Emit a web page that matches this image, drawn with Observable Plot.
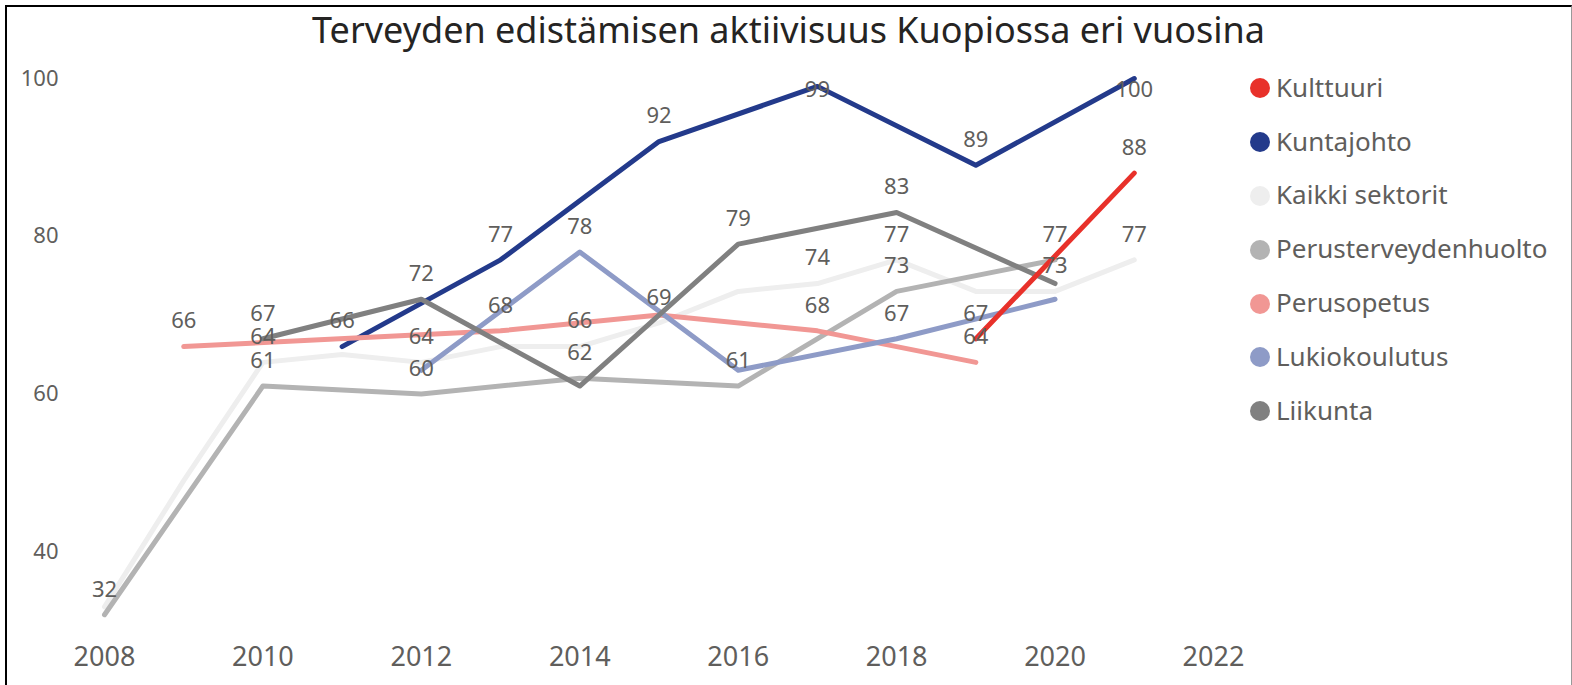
<!DOCTYPE html>
<html>
<head>
<meta charset="utf-8">
<script src="https://cdn.jsdelivr.net/npm/d3@7"></script>
<script src="https://cdn.jsdelivr.net/npm/@observablehq/plot@0.6"></script>
<style>
  html, body { margin: 0; padding: 0; background: #fff; }
  #wrap { position: relative; width: 1572px; height: 685px; overflow: hidden; font-family: "Noto Sans", "Open Sans", sans-serif; }
  #frame { position: absolute; left: 5px; top: 5px; width: 1564px; height: 700px; border-top: 2px solid #000; border-left: 2px solid #000; border-right: 1px solid #999; pointer-events: none; }
  #title { position: absolute; left: 5px; width: 1567px; top: 5px; text-align: center; font-size: 36px; line-height: 49px; color: #252423; }
  #chart { position: absolute; left: 0; top: 0; }
  #legend { position: absolute; left: 1250px; top: 60px; }
  .item { height: 53.8px; display: flex; align-items: center; font-size: 26px; color: #605E5C; }
  .dot { width: 20px; height: 20px; border-radius: 50%; margin-right: 6px; margin-top: 3px; flex: none; }
</style>
</head>
<body>
<div id="wrap">
  <div id="chart"></div>
  <div id="title">Terveyden edistämisen aktiivisuus Kuopiossa eri vuosina</div>
  <div id="legend"></div>
  <div id="frame"></div>
</div>
<script>
// Series (legend order)
const seriesNames = ["Kulttuuri", "Kuntajohto", "Kaikki sektorit", "Perusterveydenhuolto", "Perusopetus", "Lukiokoulutus", "Liikunta"];
const seriesColors = ["#E8312A", "#233A8B", "#EEEEEE", "#B3B3B3", "#F19794", "#8E9BC7", "#808080"];

const kulttuuriYears = [2019, 2021];
const kulttuuri = [67, 88];
const kuntajohtoYears = [2011, 2013, 2015, 2017, 2019, 2021];
const kuntajohto = [66, 77, 92, 99, 89, 100];
const kaikkiYears = [2008, 2009, 2010, 2011, 2012, 2013, 2014, 2015, 2016, 2017, 2018, 2019, 2020, 2021];
const kaikki = [33, 49, 64, 65, 64, 66, 66, 69, 73, 74, 77, 73, 73, 77];
const perusterveysYears = [2008, 2010, 2012, 2014, 2016, 2018, 2020];
const perusterveys = [32, 61, 60, 62, 61, 73, 77];
const perusopetusYears = [2009, 2013, 2015, 2017, 2019];
const perusopetus = [66, 68, 70, 68, 64];
const lukioYears = [2012, 2014, 2016, 2018, 2020];
const lukio = [63, 78, 63, 67, 72];
const liikuntaYears = [2010, 2012, 2014, 2016, 2018, 2020];
const liikunta = [67, 72, 61, 79, 83, 74];

// Data labels hidden in the original (overlapping)
const hiddenLabels = [
  "Kaikki sektorit 2008", "Kaikki sektorit 2009", "Kaikki sektorit 2011", "Kaikki sektorit 2013",
  "Kaikki sektorit 2016", "Kaikki sektorit 2019",
  "Lukiokoulutus 2012", "Lukiokoulutus 2016", "Lukiokoulutus 2020",
  "Liikunta 2014", "Liikunta 2020", "Perusopetus 2015"
];

const xTicks = [2008, 2010, 2012, 2014, 2016, 2018, 2020, 2022];
const yTicks = [40, 60, 80, 100];

const seriesYears = [kulttuuriYears, kuntajohtoYears, kaikkiYears, perusterveysYears, perusopetusYears, lukioYears, liikuntaYears];
const seriesValues = [kulttuuri, kuntajohto, kaikki, perusterveys, perusopetus, lukio, liikunta];

const rows = [];
seriesNames.forEach((name, i) => {
  seriesYears[i].forEach((yr, j) => rows.push({series: name, year: yr, value: seriesValues[i][j]}));
});
const labelRows = rows.filter(d => !hiddenLabels.includes(`${d.series} ${d.year}`));

// draw order: legend order, but Kulttuuri last (on top)
const drawOrder = [1, 2, 3, 4, 5, 6, 0];

const fontFamily = '"Noto Sans", "Open Sans", sans-serif';
const textColor = "#605E5C";

const marks = [];
for (const i of drawOrder) {
  marks.push(Plot.line(rows.filter(d => d.series === seriesNames[i]), {
    x: "year", y: "value", stroke: seriesColors[i], strokeWidth: 5,
    strokeLinecap: "round", strokeLinejoin: "round"
  }));
}
// labels sit above the point, but are kept inside the plot area at the top
marks.push(Plot.text(labelRows, {
  x: "year", y: d => Math.min(d.value + 3.2, 98.5), text: d => String(d.value),
  fill: textColor, fontSize: 22
}));
marks.push(Plot.axisX({ticks: xTicks, tickSize: 0, tickPadding: 16, tickFormat: d => String(d), fontSize: 27, fill: textColor, label: null}));
marks.push(Plot.axisY({ticks: yTicks, tickSize: 0, tickPadding: 46, fontSize: 22, fill: textColor, label: null}));

const chart = Plot.plot({
  width: 1572,
  height: 685,
  marginLeft: 104,
  marginRight: 359,
  marginTop: 78,
  marginBottom: 55,
  style: {fontFamily, background: "transparent", overflow: "visible"},
  x: {domain: [2008, 2022]},
  y: {domain: [30, 100]},
  marks
});
document.getElementById("chart").appendChild(chart);

const legend = document.getElementById("legend");
seriesNames.forEach((name, i) => {
  const item = document.createElement("div");
  item.className = "item";
  const dot = document.createElement("span");
  dot.className = "dot";
  dot.style.background = seriesColors[i];
  const label = document.createElement("span");
  label.textContent = name;
  item.appendChild(dot);
  item.appendChild(label);
  legend.appendChild(item);
});
</script>
</body>
</html>
